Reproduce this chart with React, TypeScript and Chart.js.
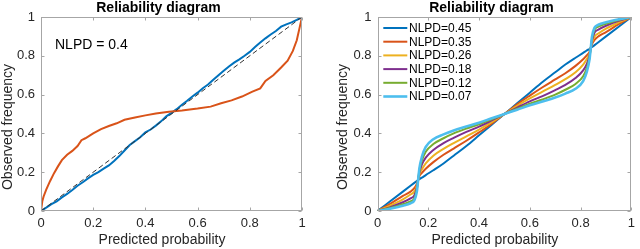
import React, { useEffect, useRef } from "react";
import { Chart, registerables } from "chart.js";

Chart.register(...registerables);

const FONT = '"Liberation Sans", Arial, Helvetica, sans-serif';

const AXIS_TICKS = [0, 0.2, 0.4, 0.6, 0.8, 1];
const AXIS_TICK_LABELS = ["0", "0.2", "0.4", "0.6", "0.8", "1"];
const TITLE = "Reliability diagram";
const X_TITLE = "Predicted probability";
const Y_TITLE = "Observed frequency";
const LEFT_NOTE = "NLPD = 0.4";

// Left panel
const DIAG_X = [0, 1];
const DIAG_Y = [0, 1];

const LEFT_BLUE_X = [
  0, 0.02, 0.04, 0.06, 0.08, 0.1, 0.12, 0.14, 0.16, 0.18, 0.2, 0.22, 0.24, 0.26, 0.28, 0.3, 0.32,
  0.34, 0.36, 0.38, 0.4, 0.42, 0.44, 0.46, 0.48, 0.5, 0.52, 0.54, 0.56, 0.58, 0.6, 0.62, 0.64, 0.66,
  0.68, 0.7, 0.72, 0.74, 0.76, 0.78, 0.8, 0.82, 0.84, 0.86, 0.88, 0.9, 0.92, 0.94, 0.96, 0.98, 1,
];
const LEFT_BLUE_Y = [
  0, 0.017, 0.035, 0.05, 0.07, 0.088, 0.108, 0.13, 0.148, 0.168, 0.186, 0.2, 0.218, 0.235, 0.258,
  0.283, 0.312, 0.34, 0.36, 0.38, 0.405, 0.42, 0.44, 0.462, 0.488, 0.506, 0.525, 0.548, 0.568, 0.59,
  0.61, 0.633, 0.652, 0.676, 0.7, 0.723, 0.745, 0.765, 0.782, 0.8, 0.82, 0.845, 0.868, 0.89, 0.91,
  0.928, 0.95, 0.962, 0.972, 0.985, 1,
];

const LEFT_ORANGE_X = [
  0, 0.005, 0.01, 0.02, 0.035, 0.05, 0.065, 0.08, 0.1, 0.12, 0.14, 0.155, 0.17, 0.2, 0.23, 0.26,
  0.29, 0.32, 0.36, 0.4, 0.44, 0.49, 0.54, 0.6, 0.65, 0.69, 0.73, 0.77, 0.81, 0.84, 0.86, 0.89, 0.92,
  0.945, 0.965, 0.98, 0.99, 1,
];
const LEFT_ORANGE_Y = [
  0, 0.05, 0.075, 0.11, 0.155, 0.195, 0.23, 0.262, 0.29, 0.31, 0.335, 0.365, 0.375, 0.4, 0.422,
  0.438, 0.452, 0.47, 0.482, 0.493, 0.503, 0.512, 0.518, 0.528, 0.538, 0.555, 0.57, 0.59, 0.615,
  0.632, 0.67, 0.7, 0.74, 0.775, 0.825, 0.88, 0.94, 1,
];

// Right panel
const RIGHT_X = [
  0, 0.05, 0.1, 0.13, 0.145, 0.155, 0.16, 0.165, 0.175, 0.19, 0.22, 0.26, 0.3, 0.35, 0.4, 0.45, 0.5,
  0.55, 0.6, 0.65, 0.7, 0.74, 0.78, 0.81, 0.825, 0.835, 0.84, 0.845, 0.855, 0.87, 0.9, 0.95, 1,
];
const R_045 = [
  0, 0.05, 0.1, 0.13, 0.145, 0.155, 0.16, 0.165, 0.172, 0.185, 0.21, 0.245, 0.285, 0.335, 0.39, 0.445,
  0.5, 0.555, 0.61, 0.665, 0.715, 0.755, 0.79, 0.815, 0.828, 0.835, 0.84, 0.845, 0.855, 0.87, 0.9,
  0.95, 1,
];
const R_035 = [
  0, 0.037, 0.078, 0.1, 0.118, 0.14, 0.16, 0.18, 0.197, 0.218, 0.252, 0.29, 0.322, 0.362, 0.405, 0.45,
  0.5, 0.55, 0.595, 0.638, 0.678, 0.71, 0.748, 0.782, 0.803, 0.82, 0.84, 0.86, 0.882, 0.9, 0.922,
  0.963, 1,
];
const R_026 = [
  0, 0.028, 0.06, 0.085, 0.1, 0.13, 0.16, 0.19, 0.215, 0.245, 0.285, 0.32, 0.35, 0.385, 0.42, 0.458,
  0.5, 0.542, 0.58, 0.615, 0.65, 0.68, 0.715, 0.755, 0.785, 0.81, 0.84, 0.87, 0.9, 0.915, 0.94, 0.972,
  1,
];
const R_018 = [
  0, 0.02, 0.045, 0.065, 0.08, 0.12, 0.16, 0.2, 0.24, 0.275, 0.315, 0.35, 0.377, 0.408, 0.435, 0.467,
  0.5, 0.533, 0.565, 0.592, 0.623, 0.65, 0.685, 0.725, 0.76, 0.8, 0.84, 0.88, 0.92, 0.935, 0.955,
  0.98, 1,
];
const R_012 = [
  0, 0.015, 0.035, 0.05, 0.065, 0.11, 0.16, 0.21, 0.26, 0.305, 0.345, 0.375, 0.4, 0.425, 0.447, 0.473,
  0.5, 0.527, 0.553, 0.575, 0.6, 0.625, 0.655, 0.695, 0.74, 0.79, 0.84, 0.89, 0.935, 0.95, 0.965,
  0.985, 1,
];
const R_007 = [
  0, 0.012, 0.027, 0.04, 0.055, 0.1, 0.16, 0.22, 0.28, 0.33, 0.37, 0.395, 0.415, 0.435, 0.455, 0.478,
  0.5, 0.522, 0.545, 0.565, 0.585, 0.605, 0.63, 0.67, 0.72, 0.78, 0.84, 0.9, 0.945, 0.96, 0.973,
  0.988, 1,
];
const RIGHT_LABELS = ["NLPD=0.45", "NLPD=0.35", "NLPD=0.26", "NLPD=0.18", "NLPD=0.12", "NLPD=0.07"];
const RIGHT_SERIES = [R_045, R_035, R_026, R_018, R_012, R_007];
const RIGHT_COLORS = ["#0072BD", "#D95319", "#EDB120", "#7E2F8E", "#77AC30", "#4DBEEE"];
const RIGHT_WIDTHS = [2, 2, 2, 2, 2, 2.6];

const BOX_COLOR = "#a6a6a6";
const TEXT_COLOR = "#262626";

function pts(xs: number[], ys: number[]) {
  return xs.map((x, i) => ({ x, y: ys[i] }));
}

function scaleOpts(axis: "x" | "y", size: number) {
  return {
    type: "linear",
    min: 0,
    max: 1,
    afterBuildTicks: (s: any) => {
      s.ticks = AXIS_TICKS.map((v) => ({ value: v }));
    },
    afterFit: (s: any) => {
      if (axis === "x") s.height = size;
      else s.width = size;
    },
    grid: { display: false, drawTicks: false },
    border: { display: false },
    ticks: {
      padding: axis === "x" ? 5 : 6,
      color: TEXT_COLOR,
      font: { family: FONT, size: 13 },
      maxRotation: 0,
      autoSkip: false,
      callback: (_v: any, i: number) => AXIS_TICK_LABELS[i],
    },
  };
}

function decorPlugin(kind: "left" | "right") {
  return {
    id: "decor-" + kind,
    afterDatasetsDraw(chart: any) {
      const { ctx, chartArea: a } = chart;
      const xs = chart.scales.x;
      const ys = chart.scales.y;
      ctx.save();
      // box
      const L = Math.round(a.left) + 0.5;
      const R = Math.round(a.right) - 0.5;
      const T = Math.round(a.top) + 0.5;
      const B = Math.round(a.bottom) - 0.5;
      ctx.strokeStyle = BOX_COLOR;
      ctx.lineWidth = 1;
      ctx.setLineDash([]);
      ctx.strokeRect(L, T, R - L, B - T);
      ctx.beginPath();
      AXIS_TICKS.forEach((v) => {
        const px = Math.round(xs.getPixelForValue(v)) + 0.5;
        ctx.moveTo(px, B);
        ctx.lineTo(px, B - 3);
        ctx.moveTo(px, T);
        ctx.lineTo(px, T + 3);
        const py = Math.round(ys.getPixelForValue(v)) + 0.5;
        ctx.moveTo(L, py);
        ctx.lineTo(L + 3, py);
        ctx.moveTo(R, py);
        ctx.lineTo(R - 3, py);
      });
      ctx.stroke();

      const cx = (a.left + a.right) / 2;
      const cy = (a.top + a.bottom) / 2;
      // title
      ctx.fillStyle = "#000";
      ctx.font = "bold 14px " + FONT;
      ctx.textAlign = "center";
      ctx.textBaseline = "alphabetic";
      ctx.fillText(TITLE, cx - 13, 12);
      // x title
      ctx.fillStyle = TEXT_COLOR;
      ctx.font = "14px " + FONT;
      ctx.fillText(X_TITLE, cx - 9.5, 244);
      // y title
      ctx.save();
      ctx.translate(kind === "left" ? 11.7 : 26.7, cy + 13);
      ctx.rotate(-Math.PI / 2);
      ctx.fillText(Y_TITLE, 0, 0);
      ctx.restore();

      if (kind === "left") {
        ctx.fillStyle = "#000";
        ctx.textAlign = "left";
        ctx.font = "14px " + FONT;
        ctx.fillText(LEFT_NOTE, 55, 49.3);
      } else {
        ctx.font = "12px " + FONT;
        ctx.textAlign = "left";
        ctx.textBaseline = "middle";
        RIGHT_LABELS.forEach((lab, i) => {
          const y = a.top + 11 + i * 13.7;
          ctx.strokeStyle = RIGHT_COLORS[i];
          ctx.lineWidth = RIGHT_WIDTHS[i];
          ctx.beginPath();
          ctx.moveTo(a.left + 5.8, y);
          ctx.lineTo(a.left + 29.8, y);
          ctx.stroke();
          ctx.fillStyle = "#000";
          ctx.fillText(lab, a.left + 31.5, y + 0.5);
        });
      }
      ctx.restore();
    },
  };
}

function PanelChart({ kind }: { kind: "left" | "right" }) {
  const ref = useRef<HTMLCanvasElement | null>(null);
  useEffect(() => {
    if (!ref.current) return;
    let datasets: any[];
    if (kind === "left") {
      datasets = [
        {
          data: pts(DIAG_X, DIAG_Y),
          borderColor: "#333333",
          borderWidth: 1,
          borderDash: [5, 3],
          order: 0,
        },
        { data: pts(LEFT_ORANGE_X, LEFT_ORANGE_Y), borderColor: "#D95319", borderWidth: 2, order: 1 },
        { data: pts(LEFT_BLUE_X, LEFT_BLUE_Y), borderColor: "#0072BD", borderWidth: 2, order: 2 },
      ];
    } else {
      datasets = RIGHT_SERIES.map((ys, i) => ({
        data: pts(RIGHT_X, ys),
        borderColor: RIGHT_COLORS[i],
        borderWidth: RIGHT_WIDTHS[i],
        cubicInterpolationMode: "monotone",
        order: RIGHT_SERIES.length - i,
      }));
    }
    datasets.forEach((d) => {
      d.showLine = true;
      d.pointRadius = 0;
      d.pointHoverRadius = 0;
      d.fill = false;
    });
    const chart = new Chart(ref.current, {
      type: "scatter",
      data: { datasets },
      options: {
        responsive: false,
        animation: false,
        events: [],
        layout: {
          padding: { top: 17, left: 0, bottom: 0, right: kind === "left" ? 18 : 3 },
        },
        plugins: { legend: { display: false }, tooltip: { enabled: false }, title: { display: false } },
        scales: {
          x: scaleOpts("x", 38),
          y: scaleOpts("y", kind === "left" ? 41 : 57.5),
        },
      } as any,
      plugins: [decorPlugin(kind)],
    });
    return () => chart.destroy();
  }, [kind]);
  return <canvas ref={ref} width={320} height={249} style={{ display: "block" }} />;
}

export default function App() {
  return (
    <div
      style={{
        position: "fixed",
        left: 0,
        top: 0,
        width: 640,
        height: 249,
        display: "flex",
        background: "#fff",
      }}
    >
      <PanelChart kind="left" />
      <PanelChart kind="right" />
    </div>
  );
}
